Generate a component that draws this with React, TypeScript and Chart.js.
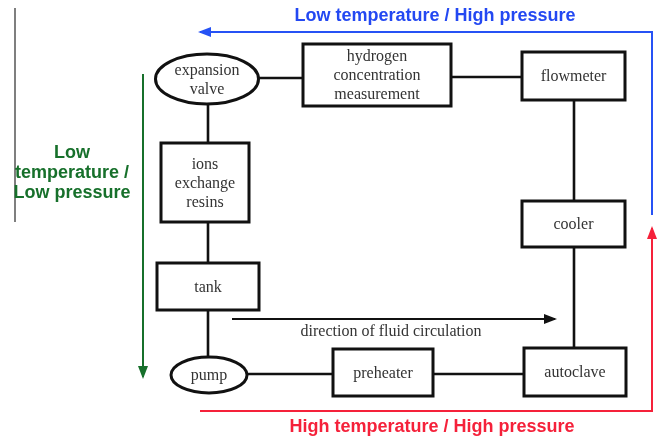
import React, { useEffect, useRef } from "react";
import { Chart, registerables } from "chart.js";
Chart.register(...registerables);

// Diagram nodes (coordinates in diagram units)
const nodeLabels: string[][] = [
  ["expansion", "valve"],
  ["hydrogen", "concentration", "measurement"],
  ["flowmeter"],
  ["cooler"],
  ["ions", "exchange", "resins"],
  ["tank"],
  ["pump"],
  ["preheater"],
  ["autoclave"],
];
const nodeShapes = ["ellipse", "rect", "rect", "rect", "rect", "rect", "ellipse", "rect", "rect"];
const nodeCenterX = [207, 377, 573.5, 573.5, 205, 208, 209, 383, 575];
const nodeCenterY = [79, 75, 76, 224, 182.5, 286.5, 375, 372.5, 372];
const nodeWidth = [103, 148, 103, 103, 88, 102, 76, 100, 102];
const nodeHeight = [50, 62, 48, 46, 79, 47, 36, 47, 48];

// Pipes between nodes
const pipeX = [[259, 303], [451, 522], [574, 574], [574, 574], [208, 208], [208, 208], [208, 208], [247, 333], [433, 524]];
const pipeY = [[78, 78], [77, 77], [100, 201], [247, 348], [104, 143], [222, 263], [310, 357], [374, 374], [374, 374]];

// Flow arrows
const flowNames = ["lowHigh", "highHigh", "lowLow", "direction"];
const flowX = [[652, 652, 200], [200, 652, 652], [143, 143], [232, 555]];
const flowY = [[215, 32, 32], [411, 411, 228], [74, 377], [319, 319]];
const flowColors = ["#2652f5", "#f5213a", "#17702b", "#111111"];

// Region labels
const regionLines: string[][] = [
  ["Low temperature / High pressure"],
  ["High temperature / High pressure"],
  ["Low", "temperature /", "Low pressure"],
];
const regionX = [435, 432, 72];
const regionY = [16, 427, 173];
const regionColors = ["#2348f2", "#f5213a", "#17702b"];

const directionLabel = "direction of fluid circulation";
const directionLabelX = 391;
const directionLabelY = 332;

// Left border line
const borderX = [15, 15];
const borderY = [8, 222];

export default function App() {
  const ref = useRef<HTMLCanvasElement | null>(null);
  useEffect(() => {
    document.body.style.margin = "0";
    const canvas = ref.current!;
    const datasets: any[] = [];
    pipeX.forEach((xs, i) => {
      datasets.push({
        data: xs.map((x, j) => ({ x, y: pipeY[i][j] })),
        showLine: true,
        borderColor: "#111111",
        borderWidth: 2.6,
        pointRadius: 0,
        fill: false,
      });
    });
    flowX.forEach((xs, i) => {
      datasets.push({
        label: flowNames[i],
        data: xs.map((x, j) => ({ x, y: flowY[i][j] })),
        showLine: true,
        borderColor: flowColors[i],
        borderWidth: i === 3 ? 1.8 : 2,
        pointRadius: 0,
        fill: false,
        isFlow: true,
      });
    });
    datasets.push({
      data: borderX.map((x, j) => ({ x, y: borderY[j] })),
      showLine: true,
      borderColor: "#555555",
      borderWidth: 1.5,
      pointRadius: 0,
    });

    const diagramPlugin = {
      id: "diagram",
      afterDatasetsDraw(chart: any) {
        const ctx = chart.ctx;
        const sx = chart.scales.x;
        const sy = chart.scales.y;
        const px = (v: number) => sx.getPixelForValue(v);
        const py = (v: number) => sy.getPixelForValue(v);
        ctx.save();
        // arrowheads
        chart.data.datasets.forEach((ds: any) => {
          if (!ds.isFlow) return;
          const n = ds.data.length;
          const a = ds.data[n - 2];
          const b = ds.data[n - 1];
          const x1 = px(a.x), y1 = py(a.y), x2 = px(b.x), y2 = py(b.y);
          const ang = Math.atan2(y2 - y1, x2 - x1);
          const L = 11, W = 5;
          ctx.fillStyle = ds.borderColor;
          ctx.beginPath();
          ctx.moveTo(x2 + Math.cos(ang) * 2, y2 + Math.sin(ang) * 2);
          ctx.lineTo(x2 - Math.cos(ang) * L - Math.sin(ang) * W, y2 - Math.sin(ang) * L + Math.cos(ang) * W);
          ctx.lineTo(x2 - Math.cos(ang) * L + Math.sin(ang) * W, y2 - Math.sin(ang) * L - Math.cos(ang) * W);
          ctx.closePath();
          ctx.fill();
        });
        // nodes
        nodeLabels.forEach((lines, i) => {
          const cx = px(nodeCenterX[i]);
          const cy = py(nodeCenterY[i]);
          const w = px(nodeCenterX[i] + nodeWidth[i] / 2) - px(nodeCenterX[i] - nodeWidth[i] / 2);
          const h = Math.abs(py(nodeCenterY[i] + nodeHeight[i] / 2) - py(nodeCenterY[i] - nodeHeight[i] / 2));
          ctx.beginPath();
          if (nodeShapes[i] === "ellipse") {
            ctx.ellipse(cx, cy, w / 2, h / 2, 0, 0, Math.PI * 2);
          } else {
            ctx.rect(cx - w / 2, cy - h / 2, w, h);
          }
          ctx.fillStyle = "#ffffff";
          ctx.fill();
          ctx.lineWidth = 3;
          ctx.strokeStyle = "#111111";
          ctx.stroke();
          ctx.fillStyle = "#333333";
          ctx.font = '16px "Liberation Serif", "Times New Roman", serif';
          ctx.textAlign = "center";
          ctx.textBaseline = "middle";
          const lh = 19;
          lines.forEach((t, k) => {
            ctx.fillText(t, cx, cy + (k - (lines.length - 1) / 2) * lh + 1);
          });
        });
        // direction label
        ctx.fillStyle = "#333333";
        ctx.font = '16px "Liberation Serif", "Times New Roman", serif';
        ctx.textAlign = "center";
        ctx.textBaseline = "middle";
        ctx.fillText(directionLabel, px(directionLabelX), py(directionLabelY));
        // region labels
        regionLines.forEach((lines, i) => {
          ctx.fillStyle = regionColors[i];
          ctx.font = 'bold 18px "Liberation Sans", Arial, sans-serif';
          lines.forEach((t, k) => {
            ctx.fillText(t, px(regionX[i]), py(regionY[i]) + (k - (lines.length - 1) / 2) * 20);
          });
        });
        ctx.restore();
      },
    };

    const chart = new Chart(canvas, {
      type: "scatter",
      data: { datasets },
      options: {
        animation: false,
        responsive: false,
        maintainAspectRatio: false,
        layout: { padding: 0 },
        plugins: { legend: { display: false }, tooltip: { enabled: false } },
        events: [],
        scales: {
          x: { type: "linear", min: 0, max: 660, display: false },
          y: { type: "linear", min: 0, max: 438, reverse: true, display: false },
        },
      },
      plugins: [diagramPlugin],
    });
    return () => chart.destroy();
  }, []);
  return (
    <div style={{ width: 660, height: 438, background: "#ffffff" }}>
      <canvas ref={ref} width={660} height={438} style={{ display: "block" }} />
    </div>
  );
}
